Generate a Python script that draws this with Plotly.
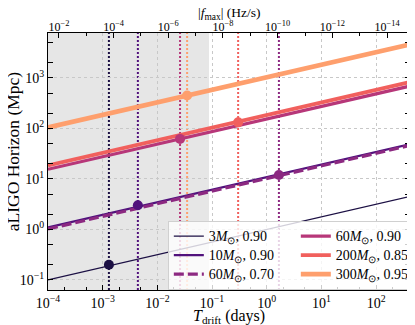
import numpy as np
import plotly.graph_objects as go

# series: (mass, spin) -> horizon (Mpc) at the two ends of the drift-time axis
labels = ["3<i>M</i><sub>⊙</sub>, 0.90", "10<i>M</i><sub>⊙</sub>, 0.90", "60<i>M</i><sub>⊙</sub>, 0.70",
          "60<i>M</i><sub>⊙</sub>, 0.90", "200<i>M</i><sub>⊙</sub>, 0.85", "300<i>M</i><sub>⊙</sub>, 0.95"]
colors = ["#1c1044", "#51127c", "#8c2981", "#b73779", "#f1605d", "#fe9f6d"]
widths = [1.4, 2.2, 3.2, 3.2, 3.8, 4.8]
dashes = ["solid", "solid", "10px,4px", "solid", "solid", "solid"]

t_ends = [1e-4, 417.0]           # days
h_start = [0.10, 1.10, 1.02, 15.5, 18.5, 105.0]
h_end = [4.5, 49.0, 46.0, 690.0, 830.0, 4600.0]

# maximum-drift marker for each series
t_mark = [1.3e-3, 4.4e-3, 1.67, 0.026, 0.30, 0.035]
h_mark = [0.20, 3.0, 12.0, 62.0, 132.0, 450.0]

t_shade = 0.088                  # grey region upper edge (days)
fdot_at_1day = 10 ** -9.6        # |fdot_max| = fdot_at_1day / T^2
h_range = [10 ** -1.2, 10 ** 3.89]

x_ticks = [1e-4, 1e-3, 1e-2, 1e-1, 1e0, 1e1, 1e2]
y_ticks = [1e-1, 1e0, 1e1, 1e2, 1e3]
top_ticks = [1e-2, 1e-4, 1e-6, 1e-8, 1e-10, 1e-12, 1e-14]


def sci(v):
    e = int(round(np.log10(v)))
    return "10<sup>" + str(e).replace("-", "−") + "</sup>"


FONT = "Liberation Serif"
fig = go.Figure()

# legend fills row-wise, so interleave the two columns
order = [0, 3, 1, 4, 2, 5]
for i in order:
    fig.add_trace(go.Scatter(
        x=t_ends, y=[h_start[i], h_end[i]], mode="lines",
        name="<span style='font-size:14px'>" + labels[i] + "</span>",
        line=dict(color=colors[i], width=widths[i], dash=dashes[i]),
    ))

for i in range(len(labels)):
    fig.add_trace(go.Scatter(
        x=[t_mark[i]], y=[h_mark[i]], mode="markers", showlegend=False,
        marker=dict(color=colors[i], size=10),
    ))

x_range = [np.log10(t_ends[0]), np.log10(t_ends[1])]
top_range = [np.log10(fdot_at_1day) - 2 * x_range[0], np.log10(fdot_at_1day) - 2 * x_range[1]]

# invisible trace to hold the top axis
fig.add_trace(go.Scatter(
    x=[10 ** top_range[0], 10 ** top_range[1]], y=[1, 1], xaxis="x2", mode="none",
    showlegend=False, hoverinfo="skip",
))

# shaded region and vertical dotted lines (shape coords are data values)
fig.add_shape(type="rect", xref="x", yref="y domain", x0=t_ends[0], x1=t_shade,
              y0=0, y1=1, fillcolor="#e6e6e6", line_width=0, layer="below")
for i in range(len(labels)):
    fig.add_shape(type="line", xref="x", yref="y domain", x0=t_mark[i], x1=t_mark[i], y0=0, y1=1,
                  line=dict(color=colors[i], width=2, dash="2px,2px"), layer="below")

axis_common = dict(
    type="log", showline=True, linecolor="black", linewidth=1.2,
    ticks="inside", ticklen=5, tickcolor="black", tickwidth=1,
    zeroline=False, automargin=False,
)
minor = dict(ticks="inside", ticklen=2.5, tickcolor="black", showgrid=False)
grid = dict(showgrid=True, gridcolor="#c8c8c8", griddash="dot", gridwidth=0.8)

# page body adds an 8px offset, so the figure is drawn 8px smaller
fig.update_layout(
    width=407, height=317, autosize=False,
    margin=dict(l=40, r=5, t=25, b=35, autoexpand=False),
    plot_bgcolor="white", paper_bgcolor="white",
    font=dict(family=FONT, size=14, color="black"),
    xaxis=dict(
        **axis_common, **grid, range=x_range, minor=minor,
        tickvals=x_ticks, ticktext=[sci(v) for v in x_ticks],
        tickfont=dict(family=FONT, size=14, color="black"),
    ),
    xaxis2=dict(
        **axis_common, minor=minor,
        overlaying="x", side="top", anchor="y", range=top_range,
        tickvals=top_ticks, ticktext=[sci(v) for v in top_ticks],
        tickfont=dict(family=FONT, size=12, color="black"),
        ticklabelstandoff=-4, showgrid=False,
    ),
    yaxis=dict(
        **axis_common, **grid, range=np.log10(h_range).tolist(), mirror="allticks", minor=minor,
        tickvals=y_ticks, ticktext=[sci(v) for v in y_ticks],
        tickfont=dict(family=FONT, size=14, color="black"),
    ),
    legend=dict(
        orientation="h", x=0.331, y=0.27, xanchor="left", yanchor="top",
        entrywidth=82, entrywidthmode="pixels",
        bgcolor="rgba(255,255,255,0.8)", bordercolor="#d0d0d0", borderwidth=1,
        font=dict(family=FONT, size=12, color="black"),
        tracegroupgap=0,
    ),
    showlegend=True,
)

# axis titles placed by hand
fig.add_annotation(text="aLIGO Horizon (Mpc)", xref="paper", yref="paper",
                   x=-35 / 362, y=0.54, xanchor="center", yanchor="middle",
                   textangle=-90, showarrow=False, font=dict(family=FONT, size=17.5))
fig.add_annotation(text="<i>T</i><sub>drift</sub> (days)", xref="paper", yref="paper",
                   x=0.5, y=-26 / 257, xanchor="center", yanchor="middle", showarrow=False,
                   font=dict(family=FONT, size=16))
fig.add_annotation(text="|<i>ḟ</i><sub>max</sub>| (Hz/s)", xref="paper", yref="paper",
                   x=0.5, y=1 + 19.5 / 257, xanchor="center", yanchor="middle", showarrow=False,
                   font=dict(family=FONT, size=13.5))

fig.write_html("out.html")
